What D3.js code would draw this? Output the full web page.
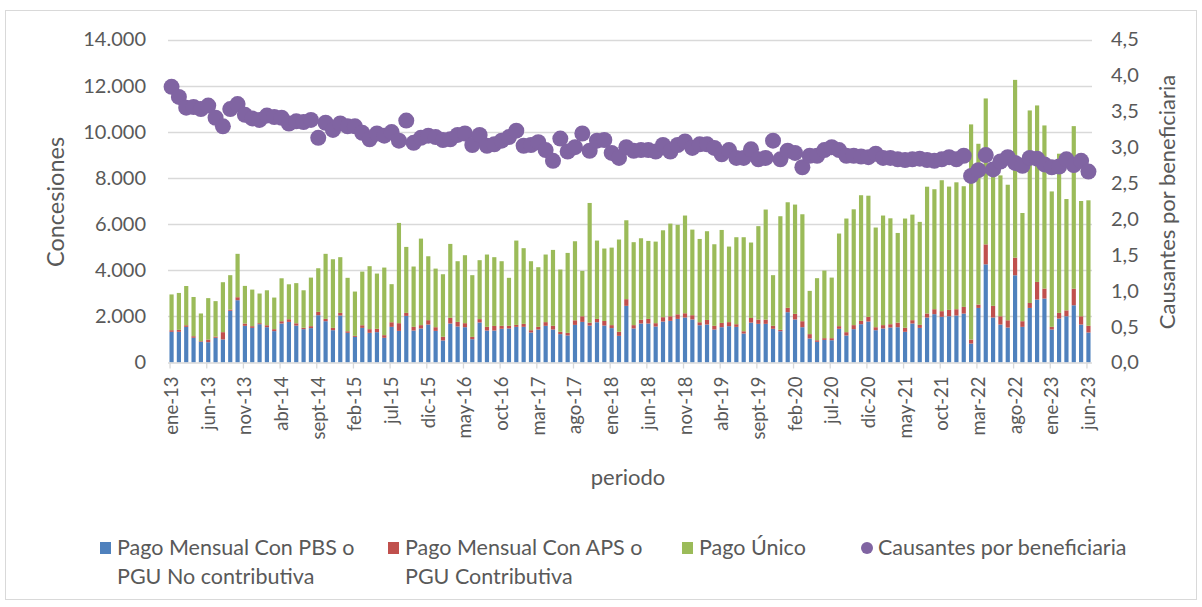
<!DOCTYPE html>
<html>
<head>
<meta charset="utf-8">
<script src="https://cdn.jsdelivr.net/npm/d3@7"></script>
<style>
  body { margin: 0; background: #fff; }
  text { font-family: Lato, "Open Sans", sans-serif; fill: #595959; }
</style>
</head>
<body>
<div id="chart"></div>
<script>
// Data
const meses = ["ene", "feb", "mar", "abr", "may", "jun", "jul", "ago", "sept", "oct", "nov", "dic"];
const anios = [13, 14, 15, 16, 17, 18, 19, 20, 21, 22, 23];

// Pago Mensual Con PBS o PGU No contributiva
const pagoPBS = [
  1330, 1330, 1545, 1070, 895, 880, 1070, 1000, 2240, 2700, 1590, 1500,
  1660, 1530, 1360, 1690, 1760, 1600, 1445, 1490, 2050, 1790, 1400, 2035,
  1285, 1110, 1500, 1285, 1315, 1070, 1545, 1370, 2020, 1385, 1475, 1645,
  1370, 955, 1690, 1560, 1530, 1010, 1735, 1385, 1385, 1460, 1475, 1545,
  1545, 1300, 1430, 1590, 1430, 1230, 1170, 1630, 1760, 1600, 1745, 1600,
  1490, 1155, 2455, 1475, 1690, 1690, 1560, 1775, 1805, 1890, 1950, 1865,
  1615, 1645, 1430, 1530, 1575, 1545, 1255, 1730, 1675, 1675, 1460, 1355,
  2180, 1865, 1530, 1040, 895, 980, 965, 1460, 1170, 1445, 1660, 1775,
  1400, 1475, 1515, 1530, 1330, 1690, 1500, 1950, 2095, 1980, 2005, 2035,
  2120, 820, 2365, 4255, 1950, 1645, 1515, 3780, 1545, 2365, 2727, 2770,
  1430, 1905, 2005, 2480, 1645, 1300
];
// Pago Mensual Con APS o PGU Contributiva
const pagoAPS = [
  70, 85, 70, 70, 30, 115, 55, 315, 55, 130, 100, 75,
  45, 85, 85, 100, 115, 100, 60, 85, 145, 100, 100, 115,
  70, 45, 115, 160, 145, 115, 200, 335, 130, 160, 145, 190,
  160, 160, 245, 200, 175, 100, 145, 160, 200, 130, 115, 85,
  130, 100, 115, 160, 160, 100, 115, 200, 245, 130, 145, 200,
  130, 175, 290, 145, 160, 200, 145, 190, 200, 200, 185, 185,
  130, 200, 160, 185, 175, 115, 100, 200, 185, 185, 130, 60,
  190, 245, 260, 190, 70, 75, 90, 115, 145, 175, 145, 200,
  130, 145, 145, 200, 175, 145, 130, 175, 215, 245, 275, 275,
  290, 175, 145, 865, 505, 360, 315, 765, 245, 215, 765, 435,
  115, 245, 255, 720, 360, 290
];
// Pago Único
const pagoUnico = [
  1550, 1600, 1700, 1700, 1200, 1795, 1535, 2165, 1490, 1880, 1630, 1585,
  1285, 1515, 1370, 1860, 1515, 1740, 1625, 2105, 1890, 2820, 2975, 2415,
  2315, 1920, 2325, 2730, 2395, 2930, 1650, 4345, 2860, 2615, 3750, 2770,
  2540, 2710, 3205, 2630, 2945, 2675, 2555, 3135, 2980, 2800, 2080, 3655,
  3280, 2990, 2585, 2930, 3290, 2700, 3465, 3425, 1965, 5185, 3395, 3140,
  3360, 4000, 3420, 3595, 3535, 3380, 3535, 3765, 4015, 3875, 4235, 3710,
  3610, 3845, 3535, 4030, 3275, 3770, 4075, 3270, 4050, 4770, 2195, 4925,
  4575, 4735, 4635, 1875, 2690, 2930, 2625, 4015, 4925, 5020, 5445, 5255,
  4320, 4750, 4590, 3885, 4735, 4575, 4465, 5495, 5200, 5675, 5345, 5500,
  5230, 9325, 6970, 6325, 5800, 6105, 5875, 7705, 4690, 8345, 7650, 7070,
  5870, 6900, 4825, 7045, 4995, 5440
];
// Causantes por beneficiaria (eje derecho)
const causantes = [
  3.84, 3.70, 3.55, 3.56, 3.53, 3.58, 3.41, 3.29, 3.53, 3.60, 3.45, 3.40,
  3.38, 3.44, 3.42, 3.41, 3.33, 3.36, 3.35, 3.38, 3.13, 3.34, 3.24, 3.33,
  3.29, 3.29, 3.20, 3.11, 3.19, 3.16, 3.21, 3.09, 3.37, 3.06, 3.13, 3.16,
  3.14, 3.10, 3.11, 3.17, 3.19, 3.03, 3.17, 3.02, 3.04, 3.09, 3.14, 3.23,
  3.02, 3.03, 3.07, 2.96, 2.81, 3.12, 2.94, 3.00, 3.19, 2.95, 3.09, 3.10,
  2.92, 2.85, 3.00, 2.95, 2.96, 2.96, 2.94, 3.03, 2.94, 3.03, 3.08, 2.99,
  3.04, 3.04, 2.99, 2.90, 2.96, 2.85, 2.85, 2.97, 2.83, 2.85, 3.09, 2.83,
  2.95, 2.92, 2.72, 2.88, 2.88, 2.96, 3.00, 2.96, 2.88, 2.88, 2.87, 2.86,
  2.91, 2.85, 2.85, 2.83, 2.82, 2.83, 2.84, 2.82, 2.81, 2.83, 2.86, 2.83,
  2.88, 2.60, 2.68, 2.89, 2.69, 2.80, 2.86, 2.78, 2.74, 2.85, 2.84, 2.76,
  2.72, 2.73, 2.83, 2.75, 2.81, 2.66
];

const ticksIzq = [0, 2000, 4000, 6000, 8000, 10000, 12000, 14000];
const ticksDer = [0, 0.5, 1, 1.5, 2, 2.5, 3, 3.5, 4, 4.5];

// Periods ene-13 .. jun-23
const periodos = [];
anios.forEach(a => meses.forEach(m => periodos.push(m + "-" + a)));
periodos.length = pagoPBS.length;

const tabla = periodos.map((p, i) => ({
  periodo: p,
  pbs: pagoPBS[i],
  aps: pagoAPS[i],
  unico: pagoUnico[i],
  causantes: causantes[i]
}));

const keys = ["pbs", "aps", "unico"];
const nombres = {
  pbs: ["Pago Mensual Con PBS o", "PGU No contributiva"],
  aps: ["Pago Mensual Con APS o", "PGU Contributiva"],
  unico: ["Pago Único"]
};
const color = d3.scaleOrdinal()
  .domain(keys)
  .range(["#4f81bd", "#c0504d", "#9bbb59"]);
const colorCausantes = "#8064a2";

const es = d3.formatLocale({decimal: ",", thousands: ".", grouping: [3], currency: ["$", ""]});
const fmtIzq = es.format(",.0f");
const fmtDer = es.format(".1f");

// Dimensions
const width = 1202, height = 607;
const plot = {left: 168, right: 1092, top: 39.5, bottom: 362.5};

const svg = d3.select("#chart")
  .append("svg")
  .attr("width", width)
  .attr("height", height);

svg.append("rect")
  .attr("x", 5.5).attr("y", 10.5)
  .attr("width", 1191).attr("height", 589)
  .attr("fill", "#fff")
  .attr("stroke", "#d9d9d9");

// Scales
const x = d3.scaleBand()
  .domain(periodos)
  .range([plot.left, plot.right])
  .paddingInner(0.43)
  .paddingOuter(0.2);

const y = d3.scaleLinear()
  .domain([0, 14000])
  .range([plot.bottom, plot.top]);

const y2 = d3.scaleLinear()
  .domain([0, 4.5])
  .range([plot.bottom, plot.top]);

// Gridlines
svg.append("g")
  .selectAll("line")
  .data(ticksIzq.filter(d => d > 0))
  .enter().append("line")
  .attr("x1", plot.left).attr("x2", plot.right)
  .attr("y1", d => Math.round(y(d)) + 0.5)
  .attr("y2", d => Math.round(y(d)) + 0.5)
  .attr("stroke", "#d9d9d9")
  .attr("stroke-width", 1.3);

// Left axis labels
svg.append("g")
  .attr("transform", `translate(${plot.left - 22},0)`)
  .call(d3.axisLeft(y).tickValues(ticksIzq).tickFormat(fmtIzq).tickSize(0).tickPadding(0))
  .call(g => g.select(".domain").remove())
  .call(g => g.selectAll("text")
    .style("font-family", "Lato, sans-serif")
    .attr("font-size", 20)
    .attr("fill", "#595959"));

// Right axis labels
svg.append("g")
  .attr("transform", `translate(${plot.right + 19},0)`)
  .call(d3.axisRight(y2).tickValues(ticksDer).tickFormat(fmtDer).tickSize(0).tickPadding(0))
  .call(g => g.select(".domain").remove())
  .call(g => g.selectAll("text")
    .style("font-family", "Lato, sans-serif")
    .attr("font-size", 20)
    .attr("fill", "#595959"));

// Stacked bars
const series = d3.stack().keys(keys)(tabla);

svg.append("g")
  .selectAll("g")
  .data(series)
  .enter().append("g")
  .attr("fill", d => color(d.key))
  .selectAll("rect")
  .data(d => d)
  .enter().append("rect")
  .attr("x", d => x(d.data.periodo))
  .attr("width", x.bandwidth())
  .attr("y", d => y(d[1]))
  .attr("height", d => y(d[0]) - y(d[1]));

// Bottom axis
const etiquetas = periodos.filter((p, i) => i % 5 === 0);
const ejeX = svg.append("g")
  .attr("transform", `translate(0,${plot.bottom})`)
  .call(d3.axisBottom(x).tickValues(etiquetas).tickSize(6).tickPadding(0).tickSizeOuter(0));
ejeX.select(".domain")
  .attr("stroke", "#d9d9d9")
  .attr("stroke-width", 1.3)
  .attr("d", `M${plot.left},0.5H${plot.right}`);
ejeX.selectAll(".tick line")
  .attr("stroke", "#d9d9d9")
  .attr("stroke-width", 1.3)
  .attr("transform", "translate(-1.5,0)");
ejeX.selectAll(".tick text")
  .style("font-family", "Lato, sans-serif")
  .attr("font-size", 18.5)
  .attr("fill", "#595959")
  .attr("text-anchor", "end")
  .attr("transform", "translate(6.5,14) rotate(-90)")
  .attr("x", 0)
  .attr("y", 0)
  .attr("dy", 0);

// Causantes dots
svg.append("g")
  .selectAll("circle")
  .data(tabla)
  .enter().append("circle")
  .attr("cx", d => x(d.periodo) + x.bandwidth() / 2)
  .attr("cy", d => y2(d.causantes))
  .attr("r", 8)
  .attr("fill", colorCausantes);

// Axis titles
svg.append("text")
  .attr("transform", "translate(64,202) rotate(-90)")
  .attr("text-anchor", "middle")
  .attr("font-size", 23.5)
  .text("Concesiones");

svg.append("text")
  .attr("transform", "translate(1175,202) rotate(-90)")
  .attr("text-anchor", "middle")
  .attr("font-size", 22)
  .text("Causantes por beneficiaria");

svg.append("text")
  .attr("x", 628)
  .attr("y", 485)
  .attr("text-anchor", "middle")
  .attr("font-size", 22)
  .text("periodo");

// Legend
const leyenda = [
  {key: "pbs", x: 100, tipo: "rect"},
  {key: "aps", x: 388, tipo: "rect"},
  {key: "unico", x: 682, tipo: "rect"},
  {key: "causantes", x: 861, tipo: "circle"}
];

const items = svg.append("g")
  .selectAll("g")
  .data(leyenda)
  .enter().append("g")
  .attr("transform", d => `translate(${d.x},548)`);

items.filter(d => d.tipo === "rect").append("rect")
  .attr("x", 0).attr("y", -6)
  .attr("width", 11).attr("height", 12)
  .attr("fill", d => color(d.key));

items.filter(d => d.tipo === "circle").append("circle")
  .attr("cx", 6).attr("cy", 0)
  .attr("r", 6)
  .attr("fill", colorCausantes);

items.append("text")
  .attr("x", 17)
  .attr("y", 7)
  .attr("font-size", 21.5)
  .selectAll("tspan")
  .data(d => d.key === "causantes" ? ["Causantes por beneficiaria"] : nombres[d.key])
  .enter().append("tspan")
  .attr("x", 17)
  .attr("dy", (d, i) => i === 0 ? 0 : 29)
  .text(d => d);
</script>
</body>
</html>
